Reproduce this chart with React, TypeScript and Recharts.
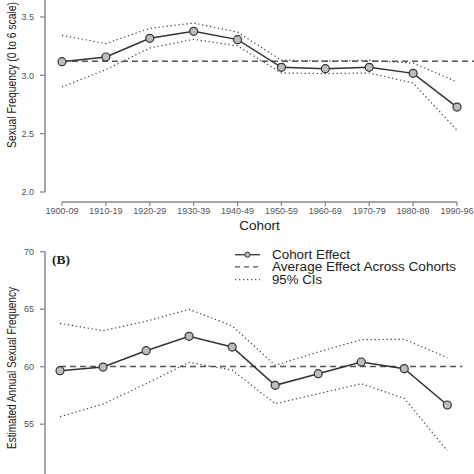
import React from 'react';
import { LineChart, Line, XAxis, YAxis, ReferenceLine, Customized } from 'recharts';

const cohorts = ['1900-09', '1910-19', '1920-29', '1930-39', '1940-49', '1950-59', '1960-69', '1970-79', '1980-89', '1990-96'];

const topEffect = [3.117, 3.157, 3.317, 3.377, 3.306, 3.069, 3.057, 3.069, 3.017, 2.728];
const topUpper = [3.343, 3.272, 3.403, 3.448, 3.37, 3.129, 3.124, 3.129, 3.105, 2.943];
const topLower = [2.9, 3.049, 3.234, 3.309, 3.252, 3.02, 3.015, 3.02, 2.934, 2.529];
const topAverage = 3.12;
const topTicks = [2.0, 2.5, 3.0, 3.5];

const botEffect = [59.65, 59.97, 61.39, 62.64, 61.71, 58.38, 59.39, 60.41, 59.83, 56.67];
const botUpper = [63.77, 63.13, 63.95, 64.99, 63.55, 60.12, 61.28, 62.35, 62.38, 60.78];
const botLower = [55.65, 56.75, 58.52, 60.38, 59.7, 56.78, 57.65, 58.52, 57.25, 52.7];
const botAverage = 60.02;
const botTicks = [55, 60, 65, 70];

const legendLabels = ['Cohort Effect', 'Average Effect Across Cohorts', '95% CIs'];
const legendWidths = [78, 184, 50];

const topData = cohorts.map((c, i) => ({ i, label: c, effect: topEffect[i], upper: topUpper[i], lower: topLower[i] }));
const botData = cohorts.map((c, i) => ({ i, label: c, effect: botEffect[i], upper: botUpper[i], lower: botLower[i] }));

const FONT = '"Liberation Sans", Arial, Helvetica, sans-serif';
const AXIS = '#8a8a8a';
const TXT = '#222';
const TICKTXT = '#555';
const idxTicks = cohorts.map((_, i) => i);

const TOP_X = [-0.387, 9.387];
const TOP_Y = [1.9143, 3.6457];
const BOT_X = [-0.349, 9.62];
const BOT_Y = [44.93, 71.017];

const effectDot = { r: 4, fill: '#bdbdbd', stroke: '#333', strokeWidth: 1.2 };
const legendY = [14.7, 26.9, 39.6];

const TopLabels = () => (
  <g fontFamily={FONT}>
    <text transform="rotate(-90)" x={-75} y={16} textAnchor="middle" fontSize={13.5} fill={TXT}
      textLength={146} lengthAdjust="spacingAndGlyphs">Sexual Frequency (0 to 6 scale)</text>
    <text x={259.5} y={229.8} textAnchor="middle" fontSize={13.5} fill={TXT}>Cohort</text>
  </g>
);

const BotLabels = () => (
  <g fontFamily={FONT}>
    <text transform="rotate(-90)" x={-128} y={16} textAnchor="middle" fontSize={13.5} fill={TXT}
      textLength={162} lengthAdjust="spacingAndGlyphs">Estimated Annual Sexual Frequency</text>
    <text x={52} y={23.5} fontFamily='"Liberation Serif", "Times New Roman", serif' fontWeight="bold" fontSize={13.5} fill={TXT}>(B)</text>
    <g>
      <line x1={235} x2={260} y1={legendY[0]} y2={legendY[0]} stroke="#333" strokeWidth={1.3} />
      <circle cx={247.5} cy={legendY[0]} r={2.6} fill="#bdbdbd" stroke="#333" strokeWidth={1} />
      <line x1={235} x2={260} y1={legendY[1]} y2={legendY[1]} stroke="#555" strokeWidth={1.3} strokeDasharray="5 4" />
      <line x1={235} x2={260} y1={legendY[2]} y2={legendY[2]} stroke="#555" strokeWidth={1.2} strokeDasharray="1.3 2.7" />
      {legendLabels.map((t, k) => (
        <text key={t} x={272} y={legendY[k] + 4.4} fontSize={12.5} fill={TXT}
          textLength={legendWidths[k]} lengthAdjust="spacingAndGlyphs">{t}</text>
      ))}
    </g>
  </g>
);

export default function App() {
  return (
    <div style={{ position: 'absolute', left: 0, top: 0, width: 474, height: 474, overflow: 'hidden', background: '#fff' }}>
      <div style={{ position: 'absolute', left: 0, top: 0 }}>
        <LineChart width={474} height={240} data={topData} margin={{ top: 0, right: 0, bottom: 0, left: 0 }}>
          <XAxis type="number" dataKey="i" domain={TOP_X} ticks={idxTicks} height={38} axisLine={false}
            tickLine={{ stroke: AXIS, strokeWidth: 1.3 }} tickSize={4} tickMargin={2} interval={0}
            tickFormatter={(v: number) => cohorts[v] ?? ''}
            tick={{ fontSize: 9, fill: TICKTXT, fontFamily: FONT }} allowDataOverflow />
          <YAxis type="number" domain={TOP_Y} ticks={topTicks} width={45} axisLine={false}
            tickLine={{ stroke: AXIS, strokeWidth: 1.3 }} tickSize={5} tickMargin={6}
            tickFormatter={(v: number) => v.toFixed(1)}
            tick={{ fontSize: 9, fill: TICKTXT, fontFamily: FONT }} allowDataOverflow />
          <ReferenceLine segment={[{ x: 0, y: TOP_Y[0] }, { x: 9, y: TOP_Y[0] }]} stroke={AXIS} strokeWidth={1.5} ifOverflow="visible" />
          <ReferenceLine segment={[{ x: TOP_X[0], y: 2 }, { x: TOP_X[0], y: TOP_Y[1] }]} stroke={AXIS} strokeWidth={1.5} ifOverflow="visible" />
          <Line dataKey="upper" stroke="#444" strokeWidth={1.2} strokeDasharray="1.3 2.7" dot={false} isAnimationActive={false} />
          <Line dataKey="lower" stroke="#444" strokeWidth={1.2} strokeDasharray="1.3 2.7" dot={false} isAnimationActive={false} />
          <ReferenceLine segment={[{ x: 0, y: topAverage }, { x: TOP_X[1], y: topAverage }]} stroke="#555" strokeWidth={1.5} strokeDasharray="6 4" ifOverflow="visible" />
          <Line dataKey="effect" stroke="#333" strokeWidth={1.5} dot={effectDot} activeDot={false} isAnimationActive={false} />
          <Customized component={TopLabels} />
        </LineChart>
      </div>
      <div style={{ position: 'absolute', left: 0, top: 240 }}>
        <LineChart width={474} height={300} data={botData} margin={{ top: 0, right: 0, bottom: 0, left: 0 }}>
          <XAxis type="number" dataKey="i" domain={BOT_X} ticks={idxTicks} hide allowDataOverflow />
          <YAxis type="number" domain={BOT_Y} ticks={botTicks} width={45} axisLine={false}
            tickLine={{ stroke: AXIS, strokeWidth: 1.3 }} tickSize={5} tickMargin={6}
            tick={{ fontSize: 9, fill: TICKTXT, fontFamily: FONT }} allowDataOverflow />
          <ReferenceLine segment={[{ x: BOT_X[0], y: BOT_Y[0] }, { x: BOT_X[0], y: 70 }]} stroke={AXIS} strokeWidth={1.5} ifOverflow="visible" />
          <Line dataKey="upper" stroke="#444" strokeWidth={1.2} strokeDasharray="1.3 2.7" dot={false} isAnimationActive={false} />
          <Line dataKey="lower" stroke="#444" strokeWidth={1.2} strokeDasharray="1.3 2.7" dot={false} isAnimationActive={false} />
          <ReferenceLine segment={[{ x: 0, y: botAverage }, { x: 9.35, y: botAverage }]} stroke="#555" strokeWidth={1.5} strokeDasharray="6 4" ifOverflow="visible" />
          <Line dataKey="effect" stroke="#333" strokeWidth={1.5} dot={effectDot} activeDot={false} isAnimationActive={false} />
          <Customized component={BotLabels} />
        </LineChart>
      </div>
    </div>
  );
}
